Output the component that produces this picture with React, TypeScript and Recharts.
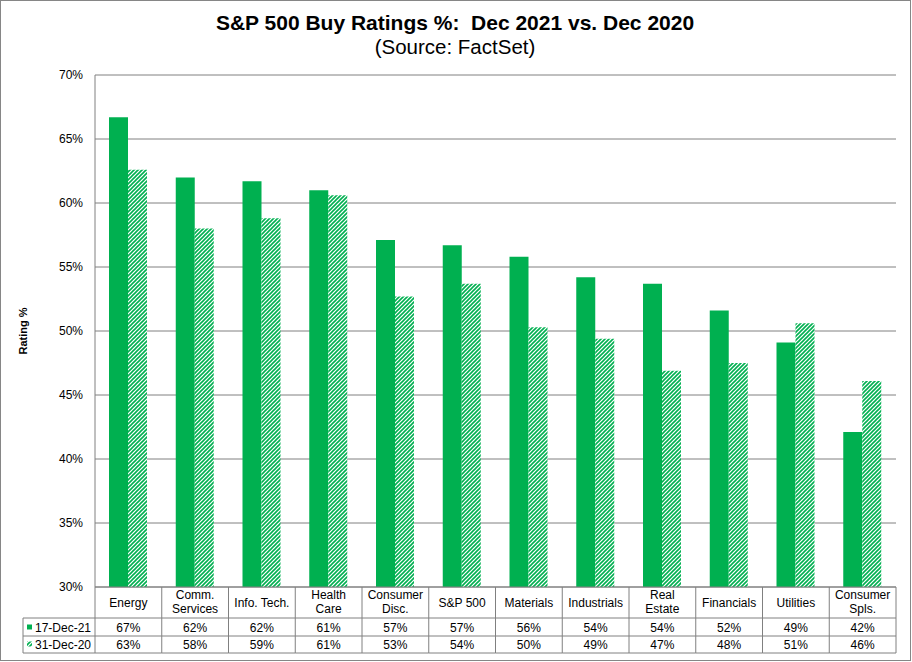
import React from 'react';
import { BarChart, Bar, XAxis, YAxis, CartesianGrid } from 'recharts';

const categories = [
  'Energy',
  'Comm.\nServices',
  'Info. Tech.',
  'Health\nCare',
  'Consumer\nDisc.',
  'S&P 500',
  'Materials',
  'Industrials',
  'Real\nEstate',
  'Financials',
  'Utilities',
  'Consumer\nSpls.',
];
const dec2021 = [66.7, 62.0, 61.7, 61.0, 57.1, 56.7, 55.8, 54.2, 53.7, 51.6, 49.1, 42.1];
const dec2020 = [62.6, 58.0, 58.8, 60.6, 52.7, 53.7, 50.3, 49.4, 46.9, 47.5, 50.6, 46.1];
const seriesNames = ['17-Dec-21', '31-Dec-20'];
const yTicks = [30, 35, 40, 45, 50, 55, 60, 65, 70];

const GREEN = '#00B050';
const GRID = '#808080';
const FONT = '"Liberation Sans", Arial, Helvetica, sans-serif';

const data = categories.map((c, i) => ({ name: c, a: dec2021[i], b: dec2020[i] }));

const W = 912;
const H = 662;
const PLOT_LEFT = 95;
const PLOT_RIGHT = 896;
const CELL_W = (PLOT_RIGHT - PLOT_LEFT) / categories.length;
const ROW1 = 618;
const ROW2 = 636;
const ROW_END = 653;
const LEG_LEFT = 23;

const TableTick = (props: any) => {
  const { x, y, payload } = props;
  const idx = typeof payload?.index === 'number' ? payload.index : categories.indexOf(payload.value);
  const top = y;
  const left = x - CELL_W / 2;
  const right = x + CELL_W / 2;
  const lines = String(payload.value).split('\n');
  const hStart = idx === 0 ? LEG_LEFT : left;
  return (
    <g>
      {idx === 0 && <line x1={left} x2={left} y1={top} y2={ROW_END} stroke={GRID} />}
      {idx === 0 && <line x1={LEG_LEFT} x2={LEG_LEFT} y1={ROW1} y2={ROW_END} stroke={GRID} />}
      <line x1={right} x2={right} y1={top} y2={ROW_END} stroke={GRID} />
      <line x1={hStart} x2={right} y1={ROW1} y2={ROW1} stroke={GRID} />
      <line x1={hStart} x2={right} y1={ROW2} y2={ROW2} stroke={GRID} />
      <line x1={hStart} x2={right} y1={ROW_END} y2={ROW_END} stroke={GRID} />
      {lines.length === 1 ? (
        <text x={x} y={606.5} textAnchor="middle" fontSize={12} fill="#000">{lines[0]}</text>
      ) : (
        lines.map((l, k) => (
          <text key={k} x={x} y={599 + k * 14} textAnchor="middle" fontSize={12} fill="#000">{l}</text>
        ))
      )}
      <text x={x} y={631.5} textAnchor="middle" fontSize={12} fill="#000">{Math.round(dec2021[idx])}%</text>
      <text x={x} y={648.5} textAnchor="middle" fontSize={12} fill="#000">{Math.round(dec2020[idx])}%</text>
      {idx === 0 && (
        <g>
          <rect x={27} y={624.5} width={5} height={5} fill={GREEN} />
          <text x={35} y={631.5} fontSize={12} fill="#000">{seriesNames[0]}</text>
          <rect x={27} y={641.5} width={5} height={5} fill="url(#hatch)" />
          <text x={35} y={648.5} fontSize={12} fill="#000">{seriesNames[1]}</text>
        </g>
      )}
    </g>
  );
};

const YLabel = (props: any) => {
  const vb = props.viewBox || {};
  const cy = (vb.y ?? 75) + (vb.height ?? 512) / 2;
  return (
    <text x={27} y={cy} transform={`rotate(-90 27 ${cy})`} textAnchor="middle" fontSize={11} fontWeight="bold" fill="#000">
      Rating %
    </text>
  );
};

export default function App() {
  return (
    <div style={{ position: 'absolute', left: 0, top: 0, width: W, height: H, background: '#fff', fontFamily: FONT }}>
      <div style={{ position: 'absolute', left: 0, top: 0, width: 911, height: 661, border: '1px solid #868686', boxSizing: 'border-box' }} />
      <svg style={{ position: 'absolute', left: 0, top: 0 }} width={W} height={70}>
        <text x={455} y={30} textAnchor="middle" fontSize={21} fontWeight="bold" fill="#000" style={{ whiteSpace: 'pre' }}>
          {'S&P 500 Buy Ratings %:  Dec 2021 vs. Dec 2020'}
        </text>
        <text x={455} y={54} textAnchor="middle" fontSize={20.5} fill="#000">
          (Source: FactSet)
        </text>
      </svg>
      <div style={{ position: 'absolute', left: 0, top: 0 }}>
        <BarChart
          width={W}
          height={H}
          data={data}
          margin={{ top: 75, right: W - PLOT_RIGHT, bottom: 0, left: 0 }}
          barGap={0}
          barSize={19}
        >
          <defs>
            <pattern id="hatch" patternUnits="userSpaceOnUse" width={4} height={4}>
              <rect x={0} y={0} width={4} height={4} fill="#fff" />
              <path d="M-1,1 l2,-2 M0,4 l4,-4 M3,5 l2,-2" stroke={GREEN} strokeWidth={1.6} />
            </pattern>
          </defs>
          <CartesianGrid vertical={false} stroke={GRID} strokeDasharray="" />
          <XAxis
            dataKey="name"
            height={H - 587}
            interval={0}
            tickLine={false}
            tickSize={0}
            tickMargin={0}
            axisLine={{ stroke: GRID }}
            tick={<TableTick />}
          />
          <YAxis
            width={PLOT_LEFT}
            domain={[30, 70]}
            ticks={yTicks}
            tickFormatter={(v: number) => `${v}%`}
            tickLine={false}
            tickSize={6}
            tickMargin={6}
            axisLine={{ stroke: GRID }}
            tick={{ fill: '#000', fontSize: 12 }}
            label={<YLabel />}
          />
          <Bar dataKey="a" name={seriesNames[0]} fill={GREEN} isAnimationActive={false} />
          <Bar dataKey="b" name={seriesNames[1]} fill="url(#hatch)" isAnimationActive={false} />
        </BarChart>
      </div>
    </div>
  );
}
